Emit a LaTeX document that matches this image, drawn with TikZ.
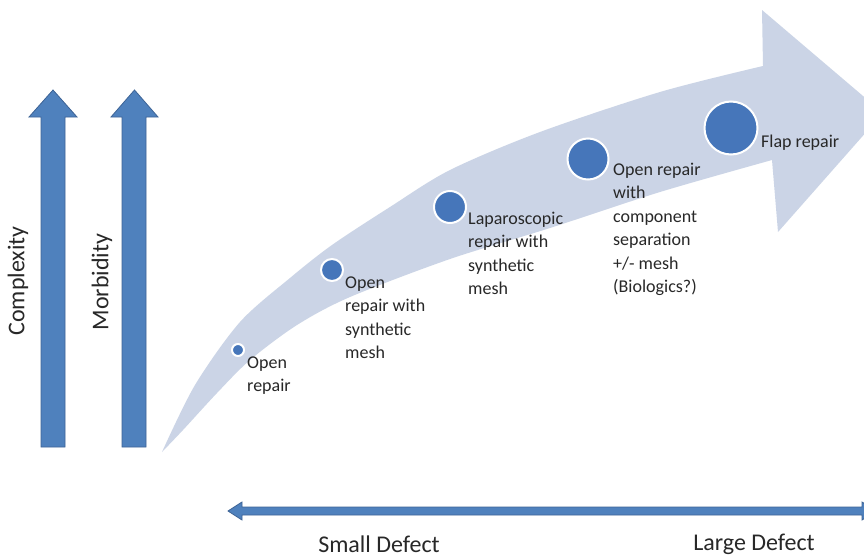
\documentclass[tikz,border=0pt]{standalone}
\usepackage{fontspec}
\setmainfont{Carlito}
\usetikzlibrary{positioning}
\definecolor{barblue}{RGB}{79,129,189}
\definecolor{baredge}{RGB}{62,100,150}
\definecolor{dotblue}{RGB}{70,118,186}
\definecolor{bandgrey}{RGB}{203,212,230}
\definecolor{txtgrey}{RGB}{40,40,40}

\begin{document}
\begin{tikzpicture}[x=1pt, y=-1pt,
  bar/.style={fill=barblue, draw=baredge, line width=0.8pt, line join=miter},
  dot/.style={circle, fill=dotblue, draw=white, line width=2pt, inner sep=0pt},
  steplabel/.style={anchor=base west, align=left, inner sep=0pt, text=txtgrey,
                    font=\fontsize{18}{23.5}\selectfont},
  axislabel/.style={text=txtgrey, inner sep=0pt, font=\fontsize{24}{29}\selectfont}
]
\clip (0,0) rectangle (864,557);
\fill[white] (0,0) rectangle (864,557);

% curved band
\fill[bandgrey] plot[smooth] coordinates {(162,452) (195,385) (240,322)
    (290,278) (332,245) (390,207) (450,170) (540,132) (660,92) (763,66)}
  -- (762,10) -- (883,113) -- (778,232)
  -- plot[smooth] coordinates {(772,160) (660,192) (550,228) (450,259)
    (350,297) (297,325) (250,360) (217,393) (183,430) (162,452)}
  -- cycle;

% vertical arrows
\draw[bar] (41,447) -- (41,117) -- (29,117) -- (53,90) -- (77,117)
  -- (65,117) -- (65,447) -- cycle;
\draw[bar] (122,447) -- (122,117) -- (111,117) -- (134.5,90) -- (158,117)
  -- (146,117) -- (146,447) -- cycle;
\node[axislabel, rotate=90] (complexity) at (18,281) {Complexity};
\node[axislabel, rotate=90] (morbidity) at (102,282) {Morbidity};

% horizontal arrow
\draw[bar] (228,511) -- (242,502) -- (242,507) -- (862,507) -- (862,502)
  -- (876,511) -- (862,520) -- (862,515) -- (242,515) -- (242,520) -- cycle;
\node[axislabel] (small) at (379,544) {Small Defect};
\node[axislabel] (large) at (754,544) {Large Defect};

% steps
\node[dot, minimum size=12pt] (d1) at (238,350) {};
\node[dot, minimum size=22pt] (d2) at (332,270) {};
\node[dot, minimum size=32pt] (d3) at (450,207) {};
\node[dot, minimum size=41pt] (d4) at (588,159) {};
\node[dot, minimum size=53pt] (d5) at (731,128) {};

\node[steplabel] (l1) at (247,391.5) {Open\\repair};
\node[steplabel] (l2) at (345,358.5) {Open\\repair with\\synthetic\\mesh};
\node[steplabel] (l3) at (468,294.5) {Laparoscopic\\repair with\\synthetic\\mesh};
\node[steplabel] (l4) at (613,292.5) {Open repair\\with\\component\\separation\\+/- mesh\\(Biologics?)};
\node[steplabel] (l5) at (761,147) {Flap repair};
\end{tikzpicture}
\end{document}
